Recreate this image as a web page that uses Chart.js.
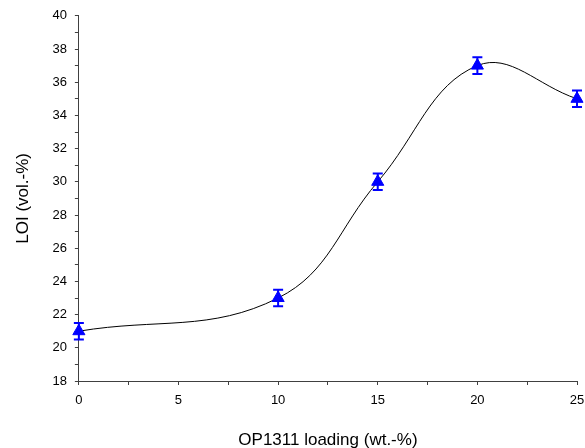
<!DOCTYPE html>
<html>
<head>
<meta charset="utf-8">
<script src="https://cdn.jsdelivr.net/npm/chart.js@4"></script>
<style>
  html, body { margin: 0; padding: 0; background: #fff; overflow: hidden; }
  #wrap { width: 585px; height: 448px; }
</style>
</head>
<body>
<div id="wrap"><canvas id="loiChart"></canvas></div>
<script>
// datos
const loading = [0, 10, 15, 20, 25];       // OP1311 loading (wt.-%)
const loi = [21, 23, 30, 37, 35];          // LOI (vol.-%)
const loiErr = [0.5, 0.5, 0.5, 0.5, 0.5];  // barras de error

// barras de error dibujadas con las escalas del gráfico
const errorBars = {
    id: 'errorBars',
    afterDatasetsDraw(chart) {
        const { ctx, scales } = chart;
        ctx.save();
        ctx.strokeStyle = '#0000ff';
        ctx.lineWidth = 2;
        loading.forEach((x, i) => {
            const px = scales.x.getPixelForValue(x);
            const top = scales.y.getPixelForValue(loi[i] + loiErr[i]);
            const bot = scales.y.getPixelForValue(loi[i] - loiErr[i]);
            ctx.beginPath();
            ctx.moveTo(px, top); ctx.lineTo(px, bot);
            ctx.moveTo(px - 5, top); ctx.lineTo(px + 5, top);
            ctx.moveTo(px - 5, bot); ctx.lineTo(px + 5, bot);
            ctx.stroke();
        });
        ctx.restore();
    }
};

const fuente = 'Liberation Sans, Arial, sans-serif';

const ctx = document.getElementById('loiChart').getContext('2d');
new Chart(ctx, {
    type: 'line',
    data: {
        datasets: [{
            data: loading.map((x, i) => ({ x: x, y: loi[i] })),
            borderColor: '#000',
            borderWidth: 1,
            tension: 0.4,
            pointStyle: 'triangle',
            pointRadius: 7,
            pointBackgroundColor: '#0000ff',
            pointBorderColor: '#0000ff',
            clip: false
        }]
    },
    options: {
        responsive: true,
        maintainAspectRatio: false,
        animation: false,
        layout: { padding: { top: 14, left: 13, right: 8, bottom: -3 } },
        plugins: { legend: { display: false }, tooltip: { enabled: false } },
        scales: {
            x: {
                type: 'linear',
                min: 0, max: 25,
                border: { color: '#404040' },
                grid: { drawOnChartArea: false, tickLength: 4, color: '#404040' },
                ticks: {
                    stepSize: 2.5, autoSkip: false, maxRotation: 0,
                    color: '#000', font: { family: fuente, size: 13 },
                    padding: 8,
                    callback: v => (v % 5 === 0 ? v : '')
                },
                title: {
                    display: true, text: 'OP1311 loading (wt.-%)', color: '#000',
                    font: { family: fuente, size: 17 },
                    padding: { top: 14, bottom: 0 }
                },
                afterFit: s => { s.paddingRight = 0; }
            },
            y: {
                min: 18, max: 40,
                border: { color: '#404040' },
                grid: { drawOnChartArea: false, tickLength: 4, color: '#404040' },
                ticks: {
                    stepSize: 1, autoSkip: false,
                    color: '#000', font: { family: fuente, size: 13 },
                    padding: 8,
                    callback: v => (v % 2 === 0 ? v : '')
                },
                title: {
                    display: true, text: 'LOI (vol.-%)', color: '#000',
                    font: { family: fuente, size: 17 },
                    padding: { top: 0, bottom: 11 }
                }
            }
        }
    },
    plugins: [errorBars]
});
</script>
</body>
</html>
